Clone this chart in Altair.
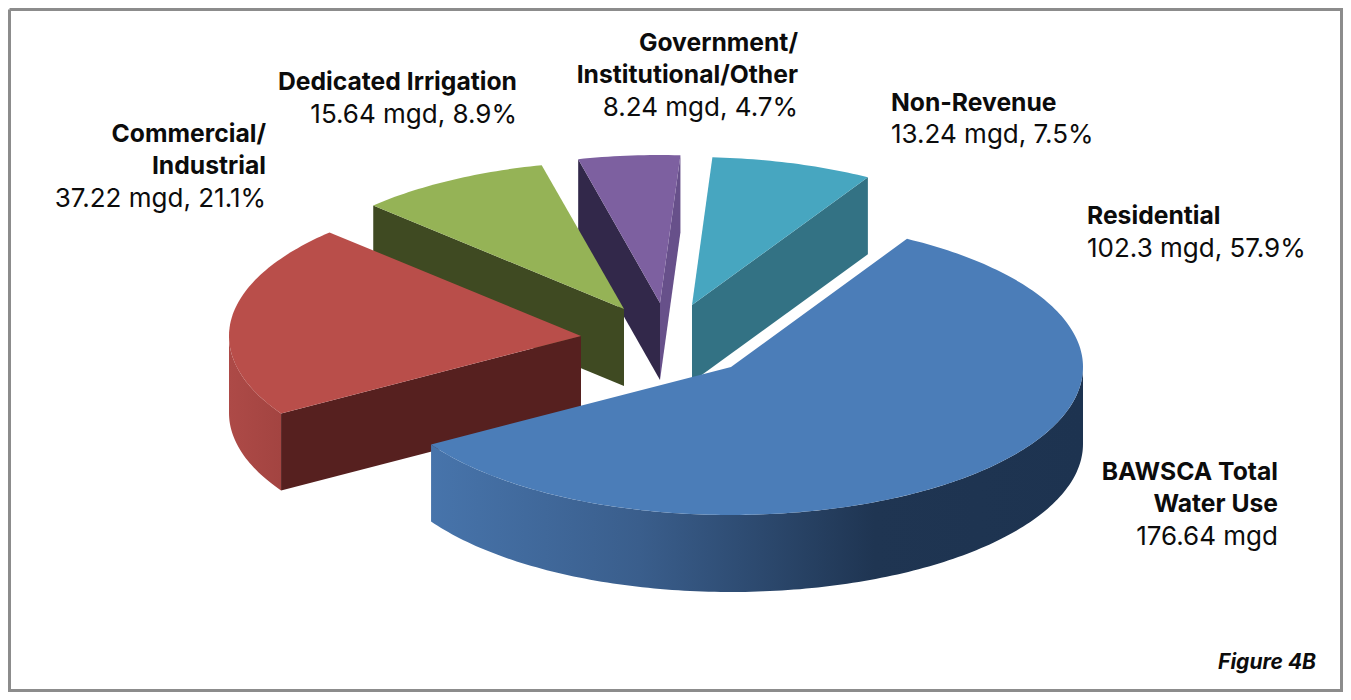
import math
import altair as alt
import pandas as pd

# ---- chart values ----
categories = ["Residential", "Commercial/Industrial", "Dedicated Irrigation", "Government/Institutional/Other", "Non-Revenue"]
mgd = [102.3, 37.22, 15.64, 8.24, 13.24]
pct = [57.9, 21.1, 8.9, 4.7, 7.5]

# ---- styling / layout of the exploded 3-D pie ----
top_colors = ["#4b7db8", "#b94e4a", "#95b356", "#7d60a0", "#47a6c0"]
cut_colors = ["#2a4466", "#56201f", "#3f4a22", "#32284a", "#337284"]
centres_x = [731, 581, 624, 660, 692]
centres_y = [367, 336, 309, 303, 305]
radii_x = [352, 352, 351, 349, 348]
RY, DEPTH = 148, 77
START = 30.0   # degrees clockwise from 12 o'clock where the first slice begins

W, H = 1335, 684
xs = alt.Scale(domain=[8, 8 + W], range=[0, W])
ys = alt.Scale(domain=[8, 8 + H], range=[0, H])


def pt(i, deg, dz=0):
    a = math.radians(deg)
    return centres_x[i] + radii_x[i] * math.sin(a), centres_y[i] - RY * math.cos(a) + dz


def arc(i, a0, a1, dz=0):
    n = max(2, int(abs(a1 - a0)) + 1)
    return [pt(i, a0 + (a1 - a0) * k / n, dz) for k in range(n + 1)]


def apex(i, dz=0):
    return centres_x[i], centres_y[i] + dz


def polygon(points, fill):
    df = pd.DataFrame({"px": [p[0] for p in points], "py": [p[1] for p in points], "k": range(len(points))})
    return alt.Chart(df).mark_line(fill=fill, stroke=None, strokeWidth=0).encode(
        x=alt.X("px:Q", scale=xs, axis=None),
        y=alt.Y("py:Q", scale=ys, axis=None),
        order="k:Q",
    )


def wall(i, deg, color):
    return polygon([apex(i), pt(i, deg), pt(i, deg, DEPTH), apex(i, DEPTH)], color)


def rim(i, a0, a1, fill):
    return polygon(arc(i, a0, a1) + arc(i, a1, a0, DEPTH), fill)


# slice boundaries come from the percentages
edges = [START]
for p in pct:
    edges.append(edges[-1] + p * 3.6)
RES, COM, IRR, GOV, NON = 0, 1, 2, 3, 4


def top(i):
    return polygon([apex(i)] + arc(i, edges[i], edges[i + 1]), top_colors[i])


blue_rim = alt.Gradient(
    gradient="linear", x1=1, x2=0, y1=0, y2=0,
    stops=[
        alt.GradientStop(offset=0, color="#1d3350"),
        alt.GradientStop(offset=0.32, color="#1f3552"),
        alt.GradientStop(offset=0.68, color="#3a5e8c"),
        alt.GradientStop(offset=1, color="#4774ab"),
    ],
)
red_rim = alt.Gradient(
    gradient="linear", x1=0, x2=1, y1=0, y2=0,
    stops=[alt.GradientStop(offset=0, color="#ad4a47"), alt.GradientStop(offset=1, color="#a34441")],
)

layers = [
    # Non-Revenue (back right)
    wall(NON, edges[NON + 1], cut_colors[NON]),
    top(NON),
    # Government
    wall(GOV, edges[GOV], cut_colors[GOV]),
    wall(GOV, edges[GOV + 1], "#67508a"),
    top(GOV),
    # Dedicated Irrigation
    wall(IRR, edges[IRR], cut_colors[IRR]),
    top(IRR),
    # Commercial
    rim(COM, edges[COM], 270, red_rim),
    wall(COM, edges[COM], cut_colors[COM]),
    top(COM),
    # Residential
    rim(RES, 90, edges[RES + 1], blue_rim),
    top(RES),
]

# ---- frame ----
frame = pd.DataFrame({"x": [9.5, 1341.5, 1341.5, 9.5, 9.5], "y": [9.5, 9.5, 690.5, 690.5, 9.5], "k": range(5)})
layers.append(
    alt.Chart(frame).mark_line(color="#8c8c8c", strokeWidth=3).encode(
        x=alt.X("x:Q", scale=xs, axis=None), y=alt.Y("y:Q", scale=ys, axis=None), order="k:Q"
    )
)

# ---- labels ----
label_text = [
    "Government/", "Institutional/Other", "8.24 mgd, 4.7%",
    "Dedicated Irrigation", "15.64 mgd, 8.9%",
    "Commercial/", "Industrial", "37.22 mgd, 21.1%",
    "BAWSCA Total", "Water Use", "176.64 mgd",
    "Non-Revenue", "13.24 mgd, 7.5%",
    "Residential", "102.3 mgd, 57.9%",
]
label_x = [798, 798, 798, 517, 517, 266, 266, 266, 1278, 1278, 1278, 891, 891, 1087, 1087]
label_y = [44, 76, 108, 83, 115, 135, 167, 199, 473, 505, 537, 104, 135, 217, 249]
label_bold = [1, 1, 0, 1, 0, 1, 1, 0, 1, 1, 0, 1, 0, 1, 0]
label_align = ["right"] * 11 + ["left"] * 4
FONT = "Inter"
labels = pd.DataFrame({"t": label_text, "x": label_x, "y": label_y, "b": label_bold, "al": label_align})
for bold in (1, 0):
    for al in ("right", "left"):
        sub = labels[(labels.b == bold) & (labels.al == al)]
        layers.append(
            alt.Chart(sub).mark_text(
                font=FONT, fontSize=24.7 if bold else 26, fontWeight="bold" if bold else "normal",
                align=al, baseline="middle", color="#0c0c0c",
            ).encode(
                x=alt.X("x:Q", scale=xs, axis=None), y=alt.Y("y:Q", scale=ys, axis=None), text="t:N"
            )
        )
layers.append(
    alt.Chart(pd.DataFrame({"t": ["Figure 4B"], "x": [1316], "y": [663]})).mark_text(
        font=FONT, fontSize=21, fontWeight="bold", fontStyle="italic", align="right", baseline="middle", color="#0c0c0c",
    ).encode(x=alt.X("x:Q", scale=xs, axis=None), y=alt.Y("y:Q", scale=ys, axis=None), text="t:N")
)

chart = (
    alt.layer(*layers)
    .properties(width=W, height=H, padding=0, autosize=alt.AutoSizeParams(type="none"), background="white")
    .configure_view(stroke=None)
)

chart.save("out.html", embed_options={"renderer": "svg", "actions": False})
